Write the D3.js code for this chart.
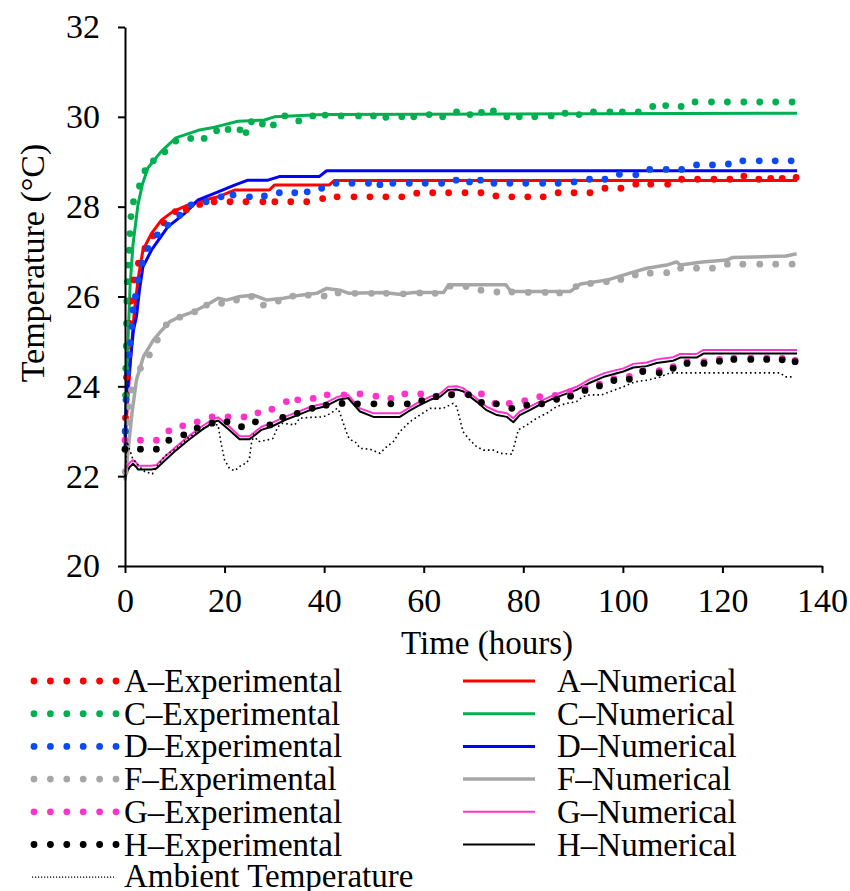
<!DOCTYPE html>
<html>
<head>
<meta charset="utf-8">
<script src="https://cdn.jsdelivr.net/npm/d3@7"></script>
<style>
  body { margin: 0; background: #fff; }
  svg text { font-family: "Liberation Serif", "Times New Roman", serif; fill: #000; }
</style>
</head>
<body>
<svg id="chart" width="850" height="891"></svg>
<script>
// experimental points [hours, °C]
const aExp = [[0.1,23.3],[0.3,24.2],[0.6,24.9],[0.9,25.4],[1.2,25.9],[1.8,26.37],[2.7,26.74],[4.0,27.07],[5.6,27.35],[7.8,27.64],[10.1,27.89],[12.3,27.93],[15,28.05],[17.9,28.11],[21.1,28.11],[24.3,28.11],[27.7,28.11],[30.1,28.11],[33.3,28.11],[36.5,28.11],[39.7,28.18],[42.6,28.22],[46,28.22],[49.2,28.22],[52.4,28.22],[55.6,28.22],[58.6,28.3],[61.8,28.31],[65,28.31],[68.3,28.31],[71.5,28.31],[74.5,28.24],[77.7,28.22],[80.9,28.22],[84,28.22],[87,28.31],[90.2,28.31],[93.4,28.31],[96.4,28.41],[99.6,28.41],[102.6,28.5],[105.6,28.5],[109,28.5],[111.8,28.61],[115,28.61],[118.3,28.61],[121.5,28.61],[124.3,28.68],[127.3,28.61],[129.7,28.63],[132,28.63],[134.8,28.65]];
const cExp = [[0.05,23.0],[0.1,23.8],[0.15,24.4],[0.25,24.9],[0.3,25.4],[0.37,25.9],[0.47,26.33],[0.67,26.7],[0.87,27.03],[1.0,27.4],[1.2,27.78],[1.7,28.11],[2.9,28.46],[4,28.8],[5.7,29.02],[8,29.22],[10.2,29.46],[13.2,29.52],[15.9,29.52],[18.4,29.69],[20.7,29.72],[23.1,29.71],[24.3,29.65],[25.4,29.89],[27.6,29.84],[29.8,29.82],[32.1,30.02],[34.9,29.91],[37.7,30.02],[40.2,30.04],[43.4,30.02],[46.9,30.02],[49.9,30.02],[52.4,29.99],[55.6,30.0],[58,30.0],[61.1,30.05],[63.8,30.0],[66.6,30.11],[69.3,30.05],[71.6,30.1],[74,30.13],[76.7,30.0],[79.2,30.0],[82.3,30.0],[85.6,30.02],[88.4,30.08],[91.2,30.05],[94.1,30.11],[97.4,30.11],[99.9,30.11],[103.1,30.11],[106,30.23],[108.6,30.25],[111.7,30.23],[114.5,30.33],[117.8,30.33],[121,30.33],[124.3,30.33],[127.5,30.33],[130.7,30.33],[134,30.33]];
const dExp = [[0.05,23.0],[0.2,23.7],[0.5,24.3],[0.8,24.7],[1.1,24.97],[1.4,25.33],[1.6,25.7],[2.1,26.0],[2.6,26.37],[3.4,26.74],[4.6,27.07],[6.5,27.37],[8.6,27.59],[11,27.81],[13.3,28.04],[16.3,28.11],[19.3,28.22],[21.7,28.26],[25,28.22],[28,28.24],[31,28.31],[34.1,28.31],[36.6,28.33],[39.5,28.41],[42.4,28.52],[45.6,28.52],[48.9,28.52],[51.2,28.49],[53.8,28.52],[57.1,28.52],[60.3,28.52],[63.6,28.52],[66.5,28.59],[69.2,28.55],[71.4,28.59],[74.1,28.52],[77.3,28.52],[80.5,28.52],[83.9,28.52],[87,28.52],[90.2,28.55],[93.3,28.61],[96.4,28.61],[99.3,28.72],[102.6,28.71],[105.4,28.83],[108.7,28.83],[111.8,28.83],[114.8,28.93],[118,28.93],[121.2,28.95],[124.1,29.02],[127.4,29.02],[130.6,29.02],[133.8,29.02]];
const fExp = [[0.05,22.1],[0.3,22.6],[0.5,23.2],[0.7,23.55],[1.3,23.92],[3.1,24.4],[4.9,24.7],[6.5,25.03],[8.3,25.37],[11,25.54],[14,25.66],[16.4,25.81],[19.4,25.85],[22.4,25.92],[25.4,26.0],[27.8,25.81],[30.8,25.9],[33.7,26.01],[36.8,26.03],[40,26.01],[42.8,26.08],[46.2,26.07],[49.5,26.07],[52.5,26.07],[55.9,26.06],[59.2,26.08],[62.3,26.07],[65.3,26.23],[68.5,26.22],[71.5,26.14],[74.7,26.1],[77.7,26.1],[81,26.09],[84.4,26.09],[87.3,26.08],[90.6,26.22],[93.5,26.29],[96.7,26.33],[99.6,26.38],[102.5,26.48],[105.5,26.52],[108.8,26.53],[111.6,26.63],[114.8,26.63],[118,26.63],[121,26.72],[124.1,26.72],[127.5,26.72],[130.7,26.72],[134,26.72]];
const gExp = [[0,22.8],[3.1,22.8],[6.3,22.8],[8.8,23.01],[11.6,23.12],[14.5,23.21],[17.5,23.32],[20.7,23.32],[23.9,23.32],[26.7,23.41],[29.5,23.49],[32.4,23.66],[34.7,23.7],[37.8,23.73],[40.6,23.81],[44,23.81],[47.2,23.83],[50.4,23.78],[53.4,23.73],[56.2,23.83],[59.4,23.83],[62.5,23.78],[65.6,23.84],[68.8,23.83],[71.6,23.83],[74.3,23.62],[77.2,23.62],[80.3,23.68],[83.3,23.77],[86.4,23.8],[89.4,23.88],[92.4,23.96],[95.3,24.05],[98.2,24.17],[101.3,24.22],[104,24.36],[107.3,24.35],[110.1,24.44],[112.9,24.55],[116.3,24.55],[119.4,24.6],[122.3,24.63],[125.7,24.63],[128.9,24.63],[132,24.62],[134.6,24.58]];
const hExp = [[0,22.6],[3.1,22.6],[6.3,22.6],[8.8,22.8],[11.8,22.92],[14.5,23.07],[17.5,23.18],[20.5,23.21],[23.4,23.1],[26.2,23.21],[29.1,23.14],[31.7,23.31],[34.6,23.4],[37.6,23.51],[40.4,23.58],[43.6,23.62],[46.7,23.61],[50,23.61],[53.4,23.61],[56.7,23.61],[59.6,23.68],[62.5,23.77],[65.6,23.81],[69,23.81],[71.6,23.64],[74.6,23.61],[77.7,23.51],[80.7,23.58],[83.7,23.61],[86.7,23.71],[89.5,23.78],[92.4,23.91],[95.3,24.01],[98.2,24.13],[101.3,24.16],[104,24.33],[107.3,24.3],[110.1,24.4],[112.9,24.51],[116.3,24.51],[119.4,24.56],[122.3,24.6],[125.7,24.6],[128.9,24.6],[132,24.59],[134.6,24.55]];

// numerical curves
const aNum = [[0,22.8],[0.5,23.6],[1.0,24.4],[1.3,24.88],[1.9,25.7],[2.7,26.44],[3.6,27.03],[5.3,27.4],[7.3,27.7],[9.6,27.89],[12.7,28.04],[16,28.15],[18.7,28.22],[22,28.37],[29,28.37],[30,28.48],[41,28.48],[42,28.58],[135,28.58]];
const cNum = [[0,22.9],[0.3,23.8],[0.6,25.0],[1.0,26.2],[1.6,27.15],[2.6,28.04],[3.5,28.5],[4.6,28.86],[7.2,29.22],[10.2,29.53],[14.7,29.7],[18,29.77],[22.7,29.9],[28,29.93],[30,30.0],[40,30.05],[135,30.08]];
const dNum = [[0,22.6],[0.3,23.77],[1.0,24.5],[1.7,25.25],[2.3,25.55],[2.9,26.14],[3.6,26.66],[5.3,27.03],[8.6,27.55],[12,27.85],[14.7,28.15],[18.7,28.33],[22,28.48],[24.7,28.59],[28.7,28.59],[31,28.67],[39,28.67],[40.5,28.8],[135,28.8]];
const fNum = [[0,21.9],[0.7,22.66],[1.4,23.4],[2.3,24.14],[3.7,24.66],[5.7,25.03],[7.4,25.25],[9,25.44],[11,25.55],[13.7,25.66],[16.4,25.81],[18.7,25.96],[20.4,25.92],[23.1,26.0],[25.8,26.03],[28.5,25.92],[31.8,25.96],[35.2,26.03],[38.5,26.07],[40.5,26.18],[43.2,26.14],[45,26.07],[52,26.09],[55,26.05],[58,26.09],[64,26.09],[65,26.26],[76.5,26.26],[77.5,26.11],[89.4,26.11],[91.5,26.28],[97,26.37],[101.4,26.52],[104.8,26.63],[108.8,26.7],[110.8,26.77],[111.5,26.7],[116,26.77],[120.8,26.81],[122.1,26.87],[132.8,26.9],[134.9,26.95]];
const gNum = [[0,22.14],[0.9,22.3],[1.6,22.36],[2.3,22.3],[2.6,22.23],[5.3,22.23],[6.3,22.25],[8,22.43],[10.3,22.66],[12.7,22.88],[15.3,23.1],[17.7,23.27],[18.7,23.31],[21,23.1],[23,22.89],[25,22.89],[27.4,23.1],[29.4,23.18],[32.1,23.32],[34.7,23.43],[37.4,23.55],[40.1,23.62],[42.8,23.77],[44.8,23.81],[47.2,23.51],[49.9,23.4],[55.2,23.4],[56.9,23.51],[58.6,23.62],[61.3,23.77],[63.3,23.84],[64.9,23.99],[66.6,24.0],[67.9,23.96],[70.6,23.73],[72.6,23.55],[74.7,23.44],[76.7,23.4],[78,23.29],[79.3,23.44],[81.3,23.55],[83.3,23.66],[85.4,23.77],[88,23.88],[90.7,23.99],[93.4,24.16],[96.4,24.3],[100.1,24.4],[102.1,24.5],[104.8,24.53],[106.8,24.6],[110.1,24.65],[111.5,24.72],[114.8,24.72],[116.2,24.81],[135,24.81]];
const hNum = [[0,21.98],[0.9,22.2],[1.6,22.28],[2.3,22.2],[2.6,22.15],[5.3,22.15],[6.3,22.17],[8,22.35],[10.3,22.58],[12.7,22.8],[15.3,23.02],[17.7,23.2],[18.7,23.24],[21,23.02],[23,22.82],[25,22.82],[27.4,23.03],[29.4,23.1],[32.1,23.25],[34.7,23.36],[37.4,23.48],[40.1,23.55],[42.8,23.7],[44.8,23.74],[47.2,23.44],[49.9,23.32],[55.2,23.32],[56.9,23.44],[58.6,23.55],[61.3,23.7],[63.3,23.77],[64.9,23.92],[66.6,23.93],[67.9,23.89],[70.6,23.66],[72.6,23.47],[74.7,23.36],[76.7,23.32],[78,23.2],[79.3,23.36],[81.3,23.47],[83.3,23.59],[85.4,23.7],[88,23.81],[90.7,23.92],[93.4,24.08],[96.4,24.22],[100.1,24.33],[102.1,24.42],[104.8,24.45],[106.8,24.52],[110.1,24.57],[111.5,24.64],[114.8,24.64],[116.2,24.73],[135,24.73]];
const ambient = [[0,22.0],[0.4,22.77],[1.5,22.4],[3,22.2],[4,22.1],[5.5,22.05],[6.3,22.2],[8,22.45],[10.3,22.62],[12.7,22.85],[15.3,23.05],[17.7,23.15],[18.7,23.14],[19.3,22.73],[20,22.36],[21,22.17],[22,22.12],[23.4,22.25],[24.4,22.29],[25,22.4],[25.4,22.73],[25.9,22.92],[26.7,22.77],[28.4,22.8],[29.7,22.84],[30.7,23.1],[31.7,23.18],[34.1,23.14],[35.1,23.29],[37.4,23.31],[39.8,23.32],[41.4,23.4],[42.6,23.51],[43.1,23.43],[44.1,23.1],[44.8,22.88],[45.5,22.8],[46.2,22.77],[47.2,22.62],[49.2,22.6],[51.2,22.51],[52.6,22.66],[53.9,22.77],[55.2,22.99],[57.2,23.21],[59.2,23.36],[61.3,23.51],[63.9,23.51],[65.9,23.62],[66.6,23.55],[67.3,23.25],[67.9,22.99],[69.3,22.8],[70.6,22.66],[72,22.58],[74,22.58],[75.3,22.51],[77.7,22.49],[78.3,22.73],[79,23.03],[80.7,23.14],[82.7,23.29],[84.7,23.4],[86.7,23.55],[88.7,23.62],[90.7,23.66],[92,23.77],[93.4,23.81],[95.7,23.81],[97.4,23.88],[100.1,23.99],[102.4,24.1],[105.1,24.14],[107.5,24.21],[109.5,24.3],[131.6,24.3],[132.6,24.21],[134.2,24.21]];

const xTicks = [0, 20, 40, 60, 80, 100, 120, 140];
const yTicks = [20, 22, 24, 26, 28, 30, 32];

const expSeries = [
  {label: "A–Experimental", data: aExp, color: "#FF0000"},
  {label: "C–Experimental", data: cExp, color: "#00B050"},
  {label: "D–Experimental", data: dExp, color: "#0A4AF5"},
  {label: "F–Experimental", data: fExp, color: "#A6A6A6"},
  {label: "G–Experimental", data: gExp, color: "#FF33CC"},
  {label: "H–Experimental", data: hExp, color: "#000000"}
];
const numSeries = [
  {label: "A–Numerical", data: aNum, color: "#FF0000", w: 3},
  {label: "C–Numerical", data: cNum, color: "#00B050", w: 3},
  {label: "D–Numerical", data: dNum, color: "#0000FF", w: 3},
  {label: "F–Numerical", data: fNum, color: "#A6A6A6", w: 3.5},
  {label: "G–Numerical", data: gNum, color: "#FF33CC", w: 2},
  {label: "H–Numerical", data: hNum, color: "#000000", w: 2}
];

const serif = '"Liberation Serif", "Times New Roman", serif';
const svg = d3.select("#chart");
const x = d3.scaleLinear().domain([0, 140]).range([125, 822]);
const y = d3.scaleLinear().domain([20, 32]).range([566, 27]);
const line = d3.line().x(d => x(d[0])).y(d => y(d[1]));

// numerical lines
svg.append("g").selectAll("path")
  .data(numSeries)
  .join("path")
  .attr("d", d => line(d.data))
  .attr("fill", "none")
  .attr("stroke", d => d.color)
  .attr("stroke-width", d => d.w)
  .attr("stroke-linejoin", "round");

// experimental dots
expSeries.forEach(s => {
  svg.append("g").selectAll("circle")
    .data(s.data)
    .join("circle")
    .attr("cx", d => x(d[0]))
    .attr("cy", d => y(d[1]))
    .attr("r", 3.4)
    .attr("fill", s.color);
});

// ambient
svg.append("path")
  .attr("d", line(ambient))
  .attr("fill", "none")
  .attr("stroke", "#000")
  .attr("stroke-width", 1.6)
  .attr("stroke-dasharray", "1.6,3");

// axes
const yAxis = svg.append("g")
  .attr("transform", "translate(125,0)")
  .call(d3.axisLeft(y).tickValues(yTicks).tickSize(7).tickSizeOuter(0).tickPadding(18));
const xAxis = svg.append("g")
  .attr("transform", "translate(0,566)")
  .call(d3.axisBottom(x).tickValues(xTicks).tickSize(7).tickSizeOuter(0).tickPadding(15));
[xAxis, yAxis].forEach(g => {
  g.attr("font-family", null).attr("font-size", null);
  g.selectAll("path, line").attr("stroke", "#000").attr("stroke-width", 2);
  g.selectAll("text").style("font-family", serif).style("font-size", "34px").attr("fill", "#000");
});

svg.append("text")
  .attr("text-anchor", "middle")
  .attr("transform", "translate(44,263) rotate(-90)")
  .style("font-size", "34px")
  .text("Temperature (°C)");

svg.append("text")
  .attr("text-anchor", "middle")
  .attr("x", 487)
  .attr("y", 654)
  .style("font-size", "33px")
  .text("Time (hours)");

// legend
const rowY = i => 681 + i * 32.7;
const legend = svg.append("g").attr("class", "legend").style("font-size", "33px");
expSeries.forEach((s, i) => {
  const g = legend.append("g").attr("transform", `translate(0,${rowY(i)})`);
  d3.range(6).forEach(k => {
    g.append("circle").attr("cx", 34 + k * 16.4).attr("cy", 0).attr("r", 3.4).attr("fill", s.color);
  });
  g.append("text").attr("x", 124).attr("y", 11).text(s.label);
});
numSeries.forEach((s, i) => {
  const g = legend.append("g").attr("transform", `translate(0,${rowY(i)})`);
  g.append("line").attr("x1", 463).attr("x2", 535).attr("y1", 0).attr("y2", 0)
    .attr("stroke", s.color).attr("stroke-width", s.w);
  g.append("text").attr("x", 557).attr("y", 11).text(s.label);
});
const amb = legend.append("g").attr("transform", `translate(0,${rowY(6)})`);
amb.append("line").attr("x1", 32).attr("x2", 114).attr("y1", 0).attr("y2", 0)
  .attr("stroke", "#000").attr("stroke-width", 1.2).attr("stroke-dasharray", "1.2,1.8");
amb.append("text").attr("x", 124).attr("y", 10).text("Ambient Temperature");
</script>
</body>
</html>
